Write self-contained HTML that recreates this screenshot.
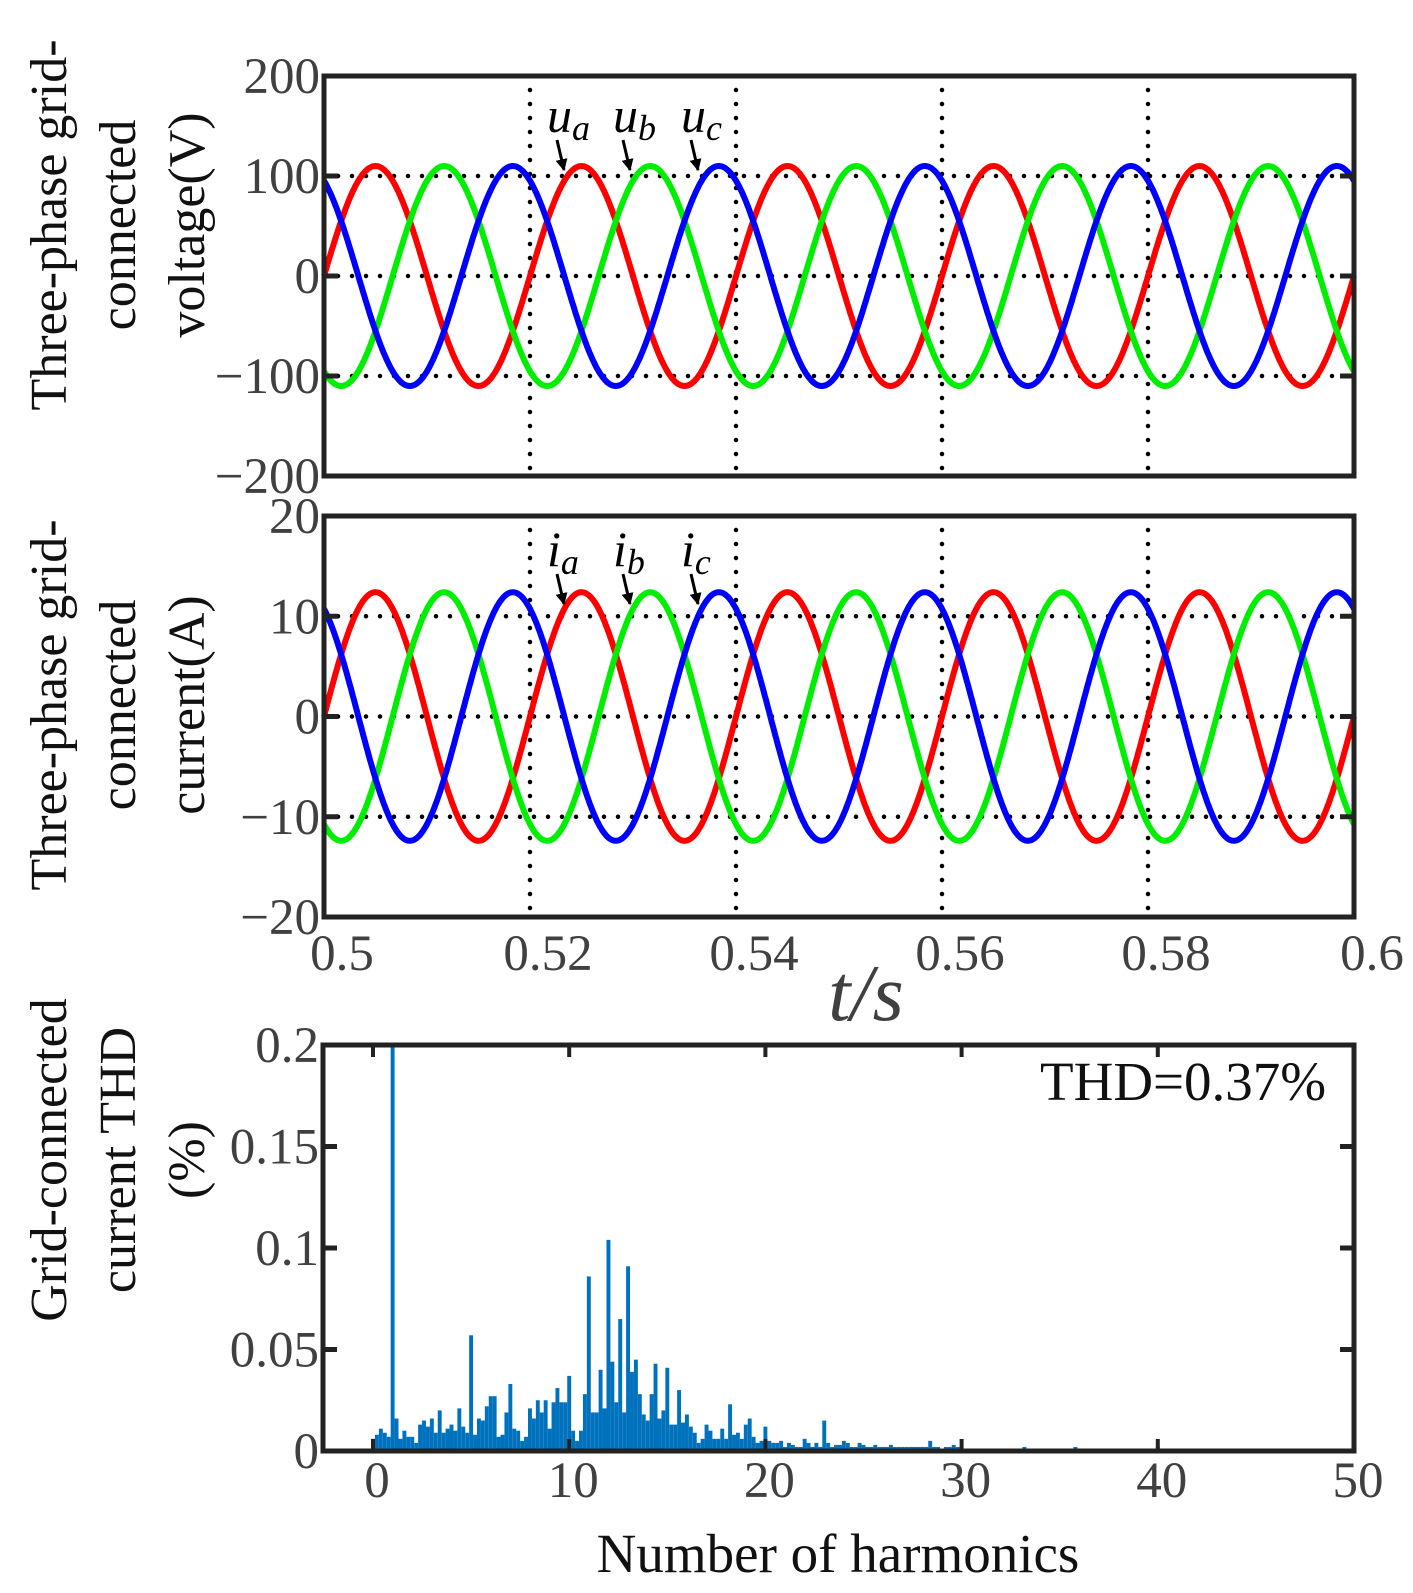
<!DOCTYPE html>
<html><head><meta charset="utf-8"><style>
body{margin:0;background:#fff}
svg{display:block}
text{font-family:"Liberation Serif","Times New Roman",serif}
.tl{font-size:51px;fill:#404040}
.yt{font-size:52px;fill:#111}
</style></head><body>
<svg id="fig" width="1413" height="1593" viewBox="0 0 1413 1593" xmlns="http://www.w3.org/2000/svg" font-family="Liberation Serif, serif">
<defs><marker id="ah" viewBox="0 0 10 10" refX="9" refY="5" markerWidth="4" markerHeight="4" orient="auto"><path d="M0,0 L10,5 L0,10z" fill="#000"/></marker></defs>
<g id="g"></g>
</svg>
<script>
// ---- data ----
const timeTicks=[0.5,0.52,0.54,0.56,0.58,0.6];
const voltTicks=[200,100,0,-100,-200];
const currTicks=[20,10,0,-10,-20];
const phaseNames=['a','b','c'];
const phaseColors=['#ff0000','#00ee00','#0000ff'];
const phaseShiftDeg=[0,-120,120];
const voltAmp=[110,110,110];
const currAmp=[12.4,12.4,12.4];
const gridFreq=50;
const harmTicks=[0,10,20,30,40,50];
const thdTicks=[0,0.05,0.1,0.15,0.2];
const harmStep=0.2;
const harmValues=[0.006,0.008,0.011,0.009,0.007,0.2,0.016,0.006,0.01,0.007,
0.007,0.004,0.013,0.015,0.012,0.016,0.009,0.02,0.009,0.011,
0.013,0.01,0.021,0.012,0.009,0.057,0.008,0.016,0.015,0.022,
0.027,0.027,0.007,0.008,0.019,0.033,0.011,0.01,0.005,0.007,
0.021,0.016,0.025,0.019,0.025,0.011,0.024,0.031,0.024,0.024,
0.037,0.01,0.005,0.01,0.028,0.086,0.019,0.019,0.04,0.021,
0.104,0.044,0.024,0.065,0.019,0.091,0.039,0.045,0.028,0.018,
0.015,0.028,0.043,0.016,0.02,0.041,0.013,0.013,0.03,0.014,
0.018,0.012,0.009,0.004,0.006,0.013,0.01,0.006,0.006,0.011,
0.006,0.023,0.008,0.009,0.006,0.013,0.016,0.007,0.004,0.005,
0.012,0.005,0.004,0.004,0.005,0.002,0.004,0.003,0.002,0.002,
0.006,0.004,0.002,0.004,0.002,0.015,0.004,0.002,0.003,0.003,
0.005,0.004,0.002,0.002,0.004,0.003,0.002,0.002,0.003,0.002,
0.002,0.002,0.003,0.002,0.002,0.002,0.002,0.002,0.002,0.002,
0.002,0.002,0.005,0.002,0.002,0.001,0.002,0.002,0.003,0.002,
0.001,0.001,0.001,0.001,0.001,0.001,0.001,0.001,0.001,0.001,
0.001,0.001,0.001,0.001,0.001,0.001,0.002,0.001,0.001,0.001,
0.001,0.001,0.001,0.001,0.001,0.001,0.001,0.001,0.001,0.002,
0.001,0.001,0.001,0.001,0.001,0.001,0.001,0.001,0.001,0.001,
0.001,0.001,0.001,0.001,0.001,0.001,0.001,0.001,0.001,0.001,
0.002,0.001,0.001,0.001,0.001,0.001,0.001,0.001,0.001,0.001,
0.001,0.001,0.001,0.001,0.001,0.001,0.001,0.001,0.001,0.001,
0.001,0.001,0.001,0.001,0.001,0.001,0.001,0.001,0.001,0.001,
0.001,0.001,0.001,0.001,0.001,0.001,0.001,0.001,0.001,0.001,
0.001,0.001,0.001,0.001,0.001,0.001,0.001,0.001,0.001,0.001,0.001];

const NS='http://www.w3.org/2000/svg';
const G=document.getElementById('g');
function mk(tag,attrs,parent){const e=document.createElementNS(NS,tag);for(const k in attrs)e.setAttribute(k,attrs[k]);(parent||G).appendChild(e);return e;}
const L=324,R=1354;
const xT=t=>L+(t-0.5)/0.1*(R-L);
function yLin(v0,v1,p0,p1){return v=>p0+(v-v0)/(v1-v0)*(p1-p0);}

function waveformPanel(name,top,bot,ticks,amps,labelPrefix,labelY,tipY){
  const y=yLin(ticks[0],ticks[4],top,bot);
  const grp=mk('g',{});
  
  
  [ticks[1],ticks[2],ticks[3]].forEach(v=>{
    const l=mk('line',{x1:L,x2:R,y1:y(v),y2:y(v),stroke:'#000','stroke-width':4.5,'stroke-dasharray':'0 14','stroke-linecap':'round'},grp);
    
    
  });
  timeTicks.slice(1,5).forEach(t=>{
    const l=mk('line',{x1:xT(t),x2:xT(t),y1:top,y2:bot,stroke:'#000','stroke-width':4.5,'stroke-dasharray':'0 14','stroke-linecap':'round'},grp);
    
    
  });
  for(let p=0;p<3;p++){
    let d='';
    for(let i=0;i<=1000;i++){
      const t=0.5+i*0.0001;
      const v=amps[p]*Math.sin(2*Math.PI*gridFreq*t+phaseShiftDeg[p]*Math.PI/180);
      d+=(i?'L':'M')+xT(t).toFixed(1)+','+y(v).toFixed(1);
    }
    const s=mk('path',{d:d,fill:'none',stroke:phaseColors[p],'stroke-width':6},grp);
    
    
  }
  const f=mk('rect',{x:L,y:top,width:R-L,height:bot-top,fill:'none',stroke:'#222','stroke-width':5},grp);
  
  
  ticks.forEach((v,i)=>{
    const tx=mk('text',{x:L-4,y:y(v)+17,'text-anchor':'end',class:'tl'},grp);
    tx.textContent=v<0?'\u2212'+Math.abs(v):String(v);
    
    
    if(i>0&&i<4){mk('line',{x1:L,x2:L+14,y1:y(v),y2:y(v),stroke:'#222','stroke-width':5},grp);mk('line',{x1:R-14,x2:R,y1:y(v),y2:y(v),stroke:'#222','stroke-width':5},grp);}
  });
  const lx=[547,613,681];
  for(let p=0;p<3;p++){
    const tx=mk('text',{x:lx[p],y:labelY,'font-size':50,'font-style':'italic',fill:'#000'},grp);
    tx.innerHTML=labelPrefix+'<tspan font-size="36" dy="8">'+phaseNames[p]+'</tspan>';
    
    
    const a=mk('line',{x1:lx[p]+10,y1:labelY+8,x2:lx[p]+17,y2:tipY,stroke:'#000','stroke-width':3,'marker-end':'url(#ah)'},grp);
    
    
  }
}
waveformPanel('voltage',76,476,voltTicks,voltAmp,'u',132,170);
waveformPanel('current',516,917,currTicks,currAmp,'i',566,604);

timeTicks.forEach(t=>{
  const tx=mk('text',{x:xT(t)+18,y:970,'text-anchor':'middle',class:'tl'});
  tx.textContent=String(t);
  
  
});
let ts=mk('text',{x:866,y:1020,'text-anchor':'middle','font-size':80,'font-style':'italic',fill:'#404040'});
ts.textContent='t/s';



const hT=1045,hB=1451;
const xH=h=>373+h*(1354-373)/50;
const yH=yLin(0,0.2,hB,hT);
const bw=(xH(harmStep)-xH(0));
harmValues.forEach((v,i)=>{
  const h=i*harmStep;
  const r=mk('rect',{x:xH(h)-bw/2,y:yH(Math.min(v,0.2)),width:bw,height:hB-yH(Math.min(v,0.2)),fill:'#0072BD'});
  
  
});
let hf=mk('rect',{x:323,y:hT,width:1354-323,height:hB-hT,fill:'none',stroke:'#222','stroke-width':5});


thdTicks.forEach(v=>{
  mk('line',{x1:323,x2:337,y1:yH(v),y2:yH(v),stroke:'#222','stroke-width':5});
  mk('line',{x1:1340,x2:1354,y1:yH(v),y2:yH(v),stroke:'#222','stroke-width':5});
  const tx=mk('text',{x:319,y:yH(v)+17,'text-anchor':'end',class:'tl'});
  tx.textContent=String(v);
  
  
});
harmTicks.forEach(h=>{
  mk('line',{x1:xH(h),x2:xH(h),y1:hT,y2:hT+12,stroke:'#222','stroke-width':4});
  mk('line',{x1:xH(h),x2:xH(h),y1:hB-12,y2:hB,stroke:'#222','stroke-width':4});
  const tx=mk('text',{x:xH(h)+4,y:1497,'text-anchor':'middle',class:'tl'});
  tx.textContent=String(h);
  
  
});
let th=mk('text',{x:1040,y:1100,'font-size':55,fill:'#111'});
th.textContent='THD=0.37%';


let nh=mk('text',{x:838,y:1572,'text-anchor':'middle','font-size':55,fill:'#111'});
nh.textContent='Number of harmonics';



function ytitle(lines,cy,name){
  const xs=[66,135,204];
  lines.forEach((s,i)=>{
    const t=mk('text',{x:0,y:0,'text-anchor':'middle',class:'yt',transform:'translate('+xs[i]+','+cy+') rotate(-90)'});
    t.textContent=s;
    
    
  });
}
ytitle(['Three-phase grid-','connected','voltage(V)'],225,'voltage-y-axis-title');
ytitle(['Three-phase grid-','connected','current(A)'],705,'current-y-axis-title');
ytitle(['Grid-connected','current THD','(%)'],1160,'thd-y-axis-title');
</script>
</body></html>
